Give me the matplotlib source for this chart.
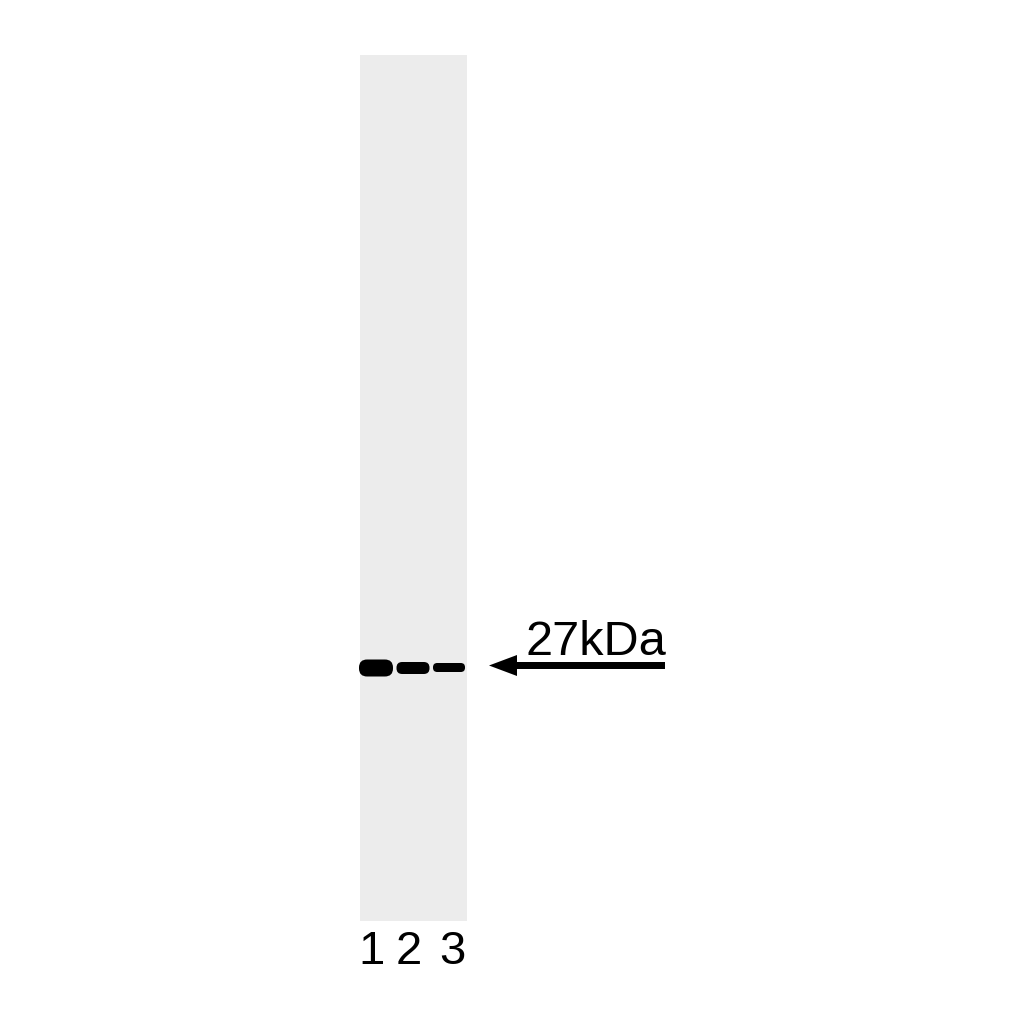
import matplotlib.pyplot as plt
from matplotlib.patches import Rectangle, FancyBboxPatch

plt.rcParams['font.family'] = ['Liberation Sans', 'DejaVu Sans']

lanes = ["1", "2", "3"]
lane_x = [376, 413, 449]
label_x = [371, 409, 452]
band_y = [668, 668, 667.5]
band_thickness = [17, 12, 9]
band_width = [34, 33, 32]
marker_label = "27kDa"
marker_y = 665.5

fig = plt.figure(figsize=(10.24, 10.24), dpi=100)
ax = fig.add_axes([0, 0, 1, 1])
ax.set_xlim(0, 1024)
ax.set_ylim(1024, 0)
ax.axis("off")

# membrane strip
ax.add_patch(Rectangle((360, 55), 107, 866, facecolor="#ececec", edgecolor="none"))

for x, y, h, w in zip(lane_x, band_y, band_thickness, band_width):
    r = h / 2 * 0.95
    ax.add_patch(FancyBboxPatch((x - w / 2 + r, y - h / 2 + r), w - 2 * r, h - 2 * r,
                                boxstyle="round,pad=%g" % r,
                                facecolor="black", edgecolor="none"))

for x, lab in zip(label_x, lanes):
    ax.text(x, 952, lab, ha="center", va="center", fontsize=34, color="black")

# marker arrow
ax.arrow(665, marker_y, -176, 0, width=7, head_width=21, head_length=28,
         length_includes_head=True, facecolor="black", edgecolor="none")
ax.text(596, 655, marker_label, ha="center", va="baseline", fontsize=35, color="black")

fig.savefig("out.png", dpi=100)
